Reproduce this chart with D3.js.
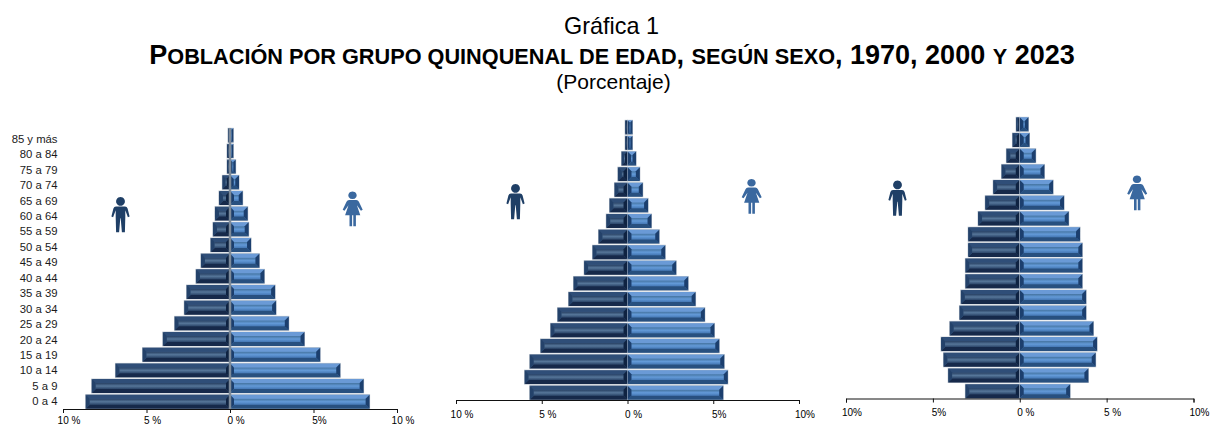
<!DOCTYPE html>
<html>
<head>
<meta charset="utf-8">
<script src="https://cdnjs.cloudflare.com/ajax/libs/d3/7.8.5/d3.min.js"></script>
<style>
  html, body { margin: 0; padding: 0; background: #fff; }
  svg { display: block; }
  text { font-family: "Liberation Sans", Arial, sans-serif; fill: #000; }
  .tick text { font-size: 10px; }
  .age { font-size: 11.3px; fill: #1a1a1a; }
</style>
</head>
<body>
<script>
var ages = ["0 a 4", "5 a 9", "10 a 14", "15 a 19", "20 a 24", "25 a 29", "30 a 34", "35 a 39", "40 a 44",
            "45 a 49", "50 a 54", "55 a 59", "60 a 64", "65 a 69", "70 a 74", "75 a 79", "80 a 84", "85 y más"];

var men1970 = [8.64, 8.28, 6.86, 5.24, 4.02, 3.32, 2.74, 2.6, 2.04, 1.74, 1.16, 1.02, 0.9, 0.66, 0.46, 0.18, 0.18, 0.12];
var women1970 = [8.36, 8.0, 6.6, 5.4, 4.46, 3.52, 2.76, 2.7, 2.06, 1.76, 1.26, 1.12, 1.06, 0.76, 0.54, 0.34, 0.2, 0.2];
var men2000 = [5.7, 6.0, 5.7, 5.07, 4.49, 4.08, 3.44, 3.15, 2.53, 2.04, 1.69, 1.24, 1.05, 0.76, 0.56, 0.35, 0.14, 0.14];
var women2000 = [5.58, 5.85, 5.64, 5.35, 5.07, 4.51, 3.97, 3.54, 2.84, 2.2, 1.85, 1.4, 1.2, 0.89, 0.72, 0.5, 0.29, 0.29];
var men2023 = [3.13, 4.12, 4.39, 4.53, 4.03, 3.47, 3.39, 3.13, 3.13, 2.97, 2.97, 2.4, 1.99, 1.53, 1.05, 0.77, 0.42, 0.21];
var women2023 = [2.9, 3.95, 4.37, 4.45, 4.24, 3.82, 3.82, 3.6, 3.6, 3.6, 3.47, 2.82, 2.55, 1.92, 1.42, 0.92, 0.56, 0.5];

var tickValues = [-10, -5, 0, 5, 10];
var ticks1970 = ["10 %", "5 %", "0 %", "5%", "10 %"];
var ticks2000 = ["10 %", "5 %", "0 %", "5%", "10%"];
var ticks2023 = ["10%", "5%", "0 %", "5 %", "10%"];

var width = 1212, height = 427;

var svg = d3.select("body").append("svg")
  .attr("width", width)
  .attr("height", height);

// titles
svg.append("text").attr("x", 611.5).attr("y", 34).attr("text-anchor", "middle")
  .style("font-size", "23.4px").text("Gráfica 1");

var titleParts = [["P", 1], ["OBLACIÓN POR GRUPO QUINQUENAL DE EDAD", 0], [", ", 1], ["SEGÚN SEXO", 0],
                  [", 1970, 2000 ", 1], ["Y", 0], [" 2023", 1]];
svg.append("text").attr("x", 612).attr("y", 64).attr("text-anchor", "middle")
  .style("font-weight", "bold")
  .selectAll("tspan").data(titleParts).enter().append("tspan")
  .style("font-size", function(d) { return d[1] ? "27px" : "21.7px"; })
  .text(function(d) { return d[0]; });

svg.append("text").attr("x", 613.5).attr("y", 89).attr("text-anchor", "middle")
  .style("font-size", "21px").text("(Porcentaje)");

// vertical shading for the bevel faces
var defs = svg.append("defs");
function addGradient(id, stops) {
  var g = defs.append("linearGradient").attr("id", id)
    .attr("x1", 0).attr("y1", 0).attr("x2", 0).attr("y2", 1);
  stops.forEach(function(s) {
    g.append("stop").attr("offset", s[0]).attr("stop-color", s[1]);
  });
}
addGradient("faceMen", [[0, "#263f62"], [0.5, "#567699"], [1, "#2a4468"]]);
addGradient("faceWomen", [[0, "#44739f"], [0.5, "#639ad8"], [1, "#4477b4"]]);

var colors = {
  men: { top: "#2f4e78", bottom: "#16294a", side: "#24426a", inner: "#0f2342", face: "url(#faceMen)" },
  women: { top: "#6a9ad6", bottom: "#28507f", side: "#3f6fab", inner: "#1c3f6e", face: "url(#faceWomen)" }
};

// the man and woman pictograms, drawn round (0,0) in a 18x36 box
var manIcon = "M0,-18 a4.4,4.4 0 1,1 -0.01,0 Z M-4.5,-8.5 h9 q2,0 2.6,2 l2,8 -1.7,0.8 -2.6,-7 v7 l-0.4,15 h-3 l-1.2,-14 h-0.4 l-1.2,14 h-3 l-0.4,-15 v-7 l-2.6,7 -1.7,-0.8 2,-8 q0.6,-2 2.6,-2 Z";
var womanIcon = "M0,-18 a4.2,3.8 0 1,1 -0.01,0 Z M-3.8,-9.5 h7.6 q1.8,0 2.6,1.8 l3.8,8 -1.8,1 -4,-5.5 3.4,10 h-4.4 v11 h-2.6 v-11 h-1.2 v11 h-2.6 v-11 h-4.4 l3.4,-10 -4,5.5 -1.8,-1 3.8,-8 q0.8,-1.8 2.6,-1.8 Z";

function bevelBar(g, x0, x1, y, h, c, outerLeft) {
  // x0 = edge at the centre line, x1 = outer edge
  var left = Math.min(x0, x1), right = Math.max(x0, x1), w = right - left;
  var b = Math.min(4, w / 2.4);
  var polys = [
    [c.top, [[left, y], [right, y], [right - b, y + b], [left + b, y + b]]],
    [c.bottom, [[left, y + h], [right, y + h], [right - b, y + h - b], [left + b, y + h - b]]],
    [outerLeft ? c.side : c.inner, [[left, y], [left + b, y + b], [left + b, y + h - b], [left, y + h]]],
    [c.inner, [[right, y], [right - b, y + b], [right - b, y + h - b], [right, y + h]]]
  ];
  g.append("rect").attr("x", left).attr("y", y).attr("width", w).attr("height", h)
    .attr("fill", c.face).attr("stroke", "#bcc4ce").attr("stroke-width", 1);
  g.append("rect").attr("x", left + b).attr("y", y + b).attr("width", Math.max(0, w - 2 * b)).attr("height", h - 2 * b)
    .attr("fill", c.face);
  polys.forEach(function(p) {
    g.append("polygon").attr("points", p[1].join(" ")).attr("fill", p[0]);
  });
}

function drawPyramid(opts) {
  var g = svg.append("g");

  var x = d3.scaleLinear().domain([-10, 10]).range([opts.left, opts.right]);
  var y = d3.scaleBand().domain(ages).range([opts.axisY, opts.top]).paddingInner(0.11).paddingOuter(0.02);

  ages.forEach(function(age, i) {
    var yy = y(age);
    bevelBar(g, x(0), x(-opts.men[i]), yy, y.bandwidth(), colors.men, true);
    bevelBar(g, x(0), x(opts.women[i]), yy, y.bandwidth(), colors.women, false);
  });

  if (opts.centerLine) {
    g.append("line").attr("x1", x(0)).attr("x2", x(0)).attr("y1", opts.top).attr("y2", opts.axisY)
      .attr("stroke", "#7d8a99").attr("stroke-width", 2.5);
  }

  var axis = d3.axisBottom(x)
    .tickValues(tickValues)
    .tickSizeInner(4)
    .tickSizeOuter(4)
    .tickPadding(opts.tickPad)
    .tickFormat(function(d, i) { return opts.tickLabels[i]; });

  var ax = g.append("g")
    .attr("transform", "translate(0," + opts.axisY + ")")
    .call(axis);
  ax.select(".domain").attr("stroke", "#111");
  ax.selectAll(".tick line").attr("stroke", "#111");
  ax.selectAll(".tick text").attr("dx", 5.5).attr("dy", "0.95em");

  if (opts.showAges) {
    // the age labels sit on a slightly shorter band than the bars
    var yLabel = d3.scaleBand().domain(ages).range([opts.axisY, opts.top + 3]);
    g.selectAll("text.age").data(ages).enter().append("text")
      .attr("class", "age")
      .attr("x", opts.left - 5.5)
      .attr("y", function(d) { return yLabel(d) + yLabel.bandwidth() / 2 + 4; })
      .attr("text-anchor", "end")
      .text(function(d) { return d; });
  }

  g.append("path").attr("d", manIcon).attr("fill", "#1f3f66")
    .attr("transform", "translate(" + opts.manAt[0] + "," + opts.manAt[1] + ")");
  g.append("path").attr("d", womanIcon).attr("fill", "#3a689f")
    .attr("transform", "translate(" + opts.womanAt[0] + "," + opts.womanAt[1] + ")");
}

drawPyramid({ left: 63, right: 397, top: 128, axisY: 409, men: men1970, women: women1970, tickLabels: ticks1970, tickPad: 1.5,
              showAges: true, centerLine: true, manAt: [120.5, 215], womanAt: [352.5, 209.5] });
drawPyramid({ left: 456, right: 799, top: 120, axisY: 400, men: men2000, women: women2000, tickLabels: ticks2000, tickPad: 4,
              showAges: false, centerLine: false, manAt: [515.5, 202], womanAt: [751.5, 197] });
drawPyramid({ left: 846, right: 1193.5, top: 117, axisY: 398.5, men: men2023, women: women2023, tickLabels: ticks2023, tickPad: 4,
              showAges: false, centerLine: false, manAt: [897.5, 198.5], womanAt: [1137, 193.5] });
</script>
</body>
</html>
